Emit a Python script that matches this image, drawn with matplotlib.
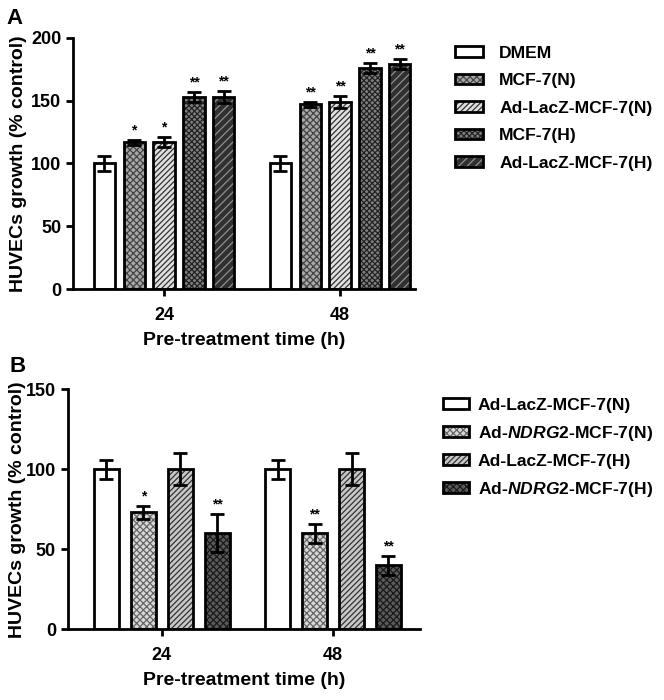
import matplotlib
matplotlib.use('Agg')
import matplotlib.pyplot as plt
from matplotlib.patches import Patch
import numpy as np

plt.rcParams['font.family'] = ['Liberation Sans', 'DejaVu Sans']
plt.rcParams['font.weight'] = 'bold'
plt.rcParams['mathtext.fontset'] = 'custom'
plt.rcParams['mathtext.it'] = 'Liberation Sans:italic:bold'
plt.rcParams['mathtext.rm'] = 'Liberation Sans:bold'
plt.rcParams['hatch.linewidth'] = 0.9

# --- datos panel A ---
times = ['24', '48']
labels_a = ['DMEM', 'MCF-7(N)', 'Ad-LacZ-MCF-7(N)', 'MCF-7(H)', 'Ad-LacZ-MCF-7(H)']
vals_a = [[100, 100], [117, 147], [117, 149], [153, 176], [153, 179]]
errs_a = [[6, 6], [2, 2], [4, 5], [4, 4], [5, 4]]
stars_a = [['', ''], ['*', '**'], ['*', '**'], ['**', '**'], ['**', '**']]

# --- datos panel B ---
labels_b = ['Ad-LacZ-MCF-7(N)', r'Ad-$\mathit{NDRG2}$-MCF-7(N)',
            'Ad-LacZ-MCF-7(H)', r'Ad-$\mathit{NDRG2}$-MCF-7(H)']
vals_b = [[100, 100], [73, 60], [100, 100], [60, 40]]
errs_b = [[6, 6], [4, 6], [10, 10], [12, 6]]
stars_b = [['', ''], ['*', '**'], ['', ''], ['**', '**']]

# estilos: (relleno, trama, color de trama)
styles_a = [('white', '', 'black'),
            ('#a8a8a8', 'xxxxx', '#444444'),
            ('#e0e0e0', '//////', '#333333'),
            ('#808080', 'xxxxxx', '#222222'),
            ('#303030', '////', '#909090')]
styles_b = [('white', '', 'black'),
            ('#d8d8d8', 'xxxxx', '#666666'),
            ('#c8c8c8', '//////', '#333333'),
            ('#5a5a5a', 'xxxxx', '#1a1a1a')]


def draw_panel(ax, labels, vals, errs, stars, styles, step, width, ymax, yticks):
    x = np.arange(len(times))
    n = len(labels)
    handles = []
    for i in range(n):
        pos = x + (i - (n - 1) / 2) * step
        face, hatch, hcol = styles[i]
        ax.bar(pos, vals[i], width, color=face, hatch=hatch, edgecolor=hcol,
               linewidth=0, zorder=2)
        ax.bar(pos, vals[i], width, fill=False, edgecolor='black',
               linewidth=2, zorder=3)
        ax.errorbar(pos, vals[i], yerr=errs[i], fmt='none', ecolor='black',
                    elinewidth=2, capsize=5, capthick=2, zorder=4)
        for p, v, e, s in zip(pos, vals[i], errs[i], stars[i]):
            if s:
                ax.text(p, v + e + ymax * 0.01, s, ha='center', va='bottom',
                        fontsize=10, fontweight='bold')
        h = (Patch(facecolor=face, hatch=hatch, edgecolor=hcol, linewidth=0),
             Patch(fill=False, edgecolor='black', linewidth=2))
        handles.append(h)
    ax.set_ylim(0, ymax)
    ax.set_yticks(yticks)
    ax.set_xticks(x)
    ax.set_xticklabels(times)
    for s in ['top', 'right']:
        ax.spines[s].set_visible(False)
    for s in ['left', 'bottom']:
        ax.spines[s].set_linewidth(2)
    ax.tick_params(width=2, length=5, labelsize=13)
    ax.tick_params(axis='x', pad=8)
    ax.set_xlabel('Pre-treatment time (h)', fontsize=14, fontweight='bold')
    ax.set_ylabel('HUVECs growth (% control)', fontsize=14, fontweight='bold')
    return handles


fig = plt.figure(figsize=(6.64, 7.0), dpi=100)

ax1 = fig.add_axes([0.110, 0.587, 0.515, 0.359])
h1 = draw_panel(ax1, labels_a, vals_a, errs_a, stars_a, styles_a,
                0.17, 0.12, 200, [0, 50, 100, 150, 200])
ax1.set_xlim(-0.517, 1.426)
ax1.yaxis.set_label_coords(-0.134, 0.5)
ax1.xaxis.set_label_coords(0.5, -0.171)
fig.legend(h1, labels_a, loc='upper left', bbox_to_anchor=(0.674, 0.945),
           frameon=False, fontsize=12.6, handlelength=1.6, handleheight=0.55,
           labelspacing=0.72, handletextpad=0.95, borderaxespad=0)

ax2 = fig.add_axes([0.102, 0.101, 0.531, 0.343])
h2 = draw_panel(ax2, labels_b, vals_b, errs_b, stars_b, styles_b,
                0.216, 0.146, 150, [0, 50, 100, 150])
ax2.set_xlim(-0.55, 1.51)
ax2.yaxis.set_label_coords(-0.117, 0.5)
ax2.xaxis.set_label_coords(0.5, -0.179)
fig.legend(h2, labels_b, loc='upper left', bbox_to_anchor=(0.656, 0.442),
           frameon=False, fontsize=12.6, handlelength=1.5, handleheight=0.55,
           labelspacing=0.63, handletextpad=0.5, borderaxespad=0)

fig.text(0.010, 0.989, 'A', fontsize=16, fontweight='bold', va='top')
fig.text(0.015, 0.491, 'B', fontsize=16, fontweight='bold', va='top')

plt.savefig('out.png', dpi=100)
